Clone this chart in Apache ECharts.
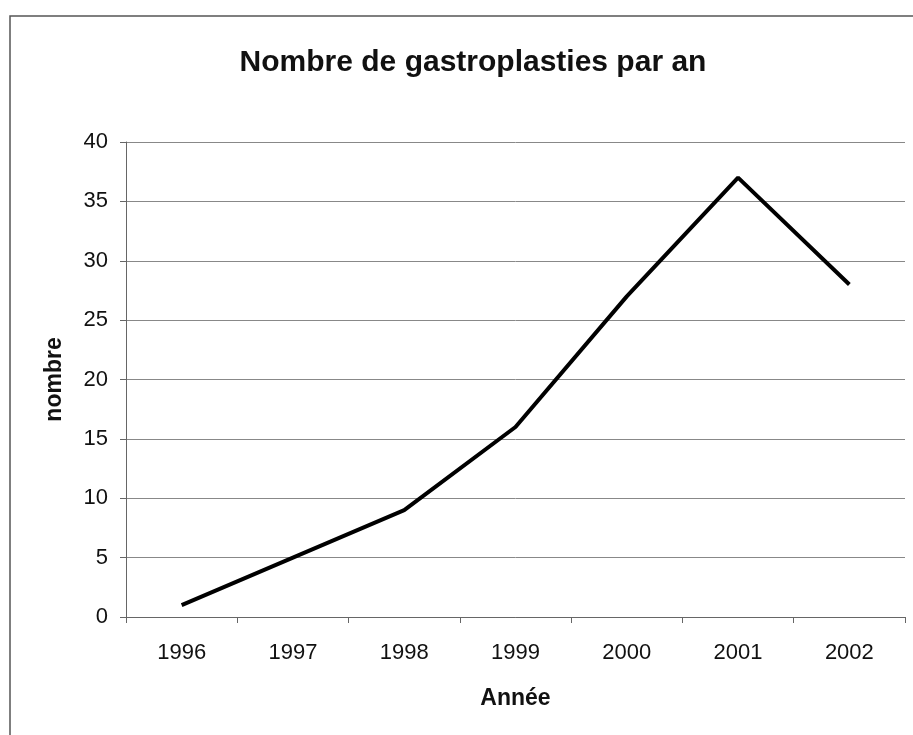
<!DOCTYPE html>
<html>
<head>
<meta charset="utf-8">
<script src="https://cdn.jsdelivr.net/npm/echarts@6/dist/echarts.min.js"></script>
<style>
  html, body { margin: 0; padding: 0; background: #fff; }
  #chart { width: 913px; height: 735px; }
</style>
</head>
<body>
<div id="chart"></div>
<script>
// données
var annees = ['1996', '1997', '1998', '1999', '2000', '2001', '2002'];
var nombres = [1, 5, 9, 16, 27, 37, 28];
var yTicks = [0, 5, 10, 15, 20, 25, 30, 35, 40];

var myChart = echarts.init(document.getElementById('chart'));

myChart.setOption({
    animation: false,
    textStyle: { fontFamily: 'Liberation Sans, Arial, sans-serif', color: '#111' },
    title: {
        text: 'Nombre de gastroplasties par an',
        left: 468,
        textAlign: 'center',
        top: 43,
        textStyle: { fontSize: 30, fontWeight: 'bold', color: '#111' }
    },
    graphic: [
        {
            // cadre du graphique (bords haut et gauche visibles)
            type: 'rect',
            shape: { x: 10, y: 16, width: 960, height: 760 },
            style: { fill: 'none', stroke: '#555', lineWidth: 1.5 }
        }
    ],
    grid: { left: 126, right: 8, top: 142, bottom: 118 },
    xAxis: {
        type: 'category',
        data: annees,
        name: 'Année',
        nameLocation: 'middle',
        nameGap: 70,
        nameTextStyle: { fontSize: 23, fontWeight: 'bold', color: '#111' },
        axisLine: { lineStyle: { color: '#666', width: 1 } },
        axisTick: { show: true, length: 6, lineStyle: { color: '#666' } },
        axisLabel: { fontSize: 22, color: '#111', margin: 25 }
    },
    yAxis: {
        type: 'value',
        min: yTicks[0],
        max: yTicks[yTicks.length - 1],
        interval: 5,
        name: 'nombre',
        nameLocation: 'middle',
        nameGap: 60,
        nameTextStyle: { fontSize: 23, fontWeight: 'bold', color: '#111' },
        axisLine: { show: true, lineStyle: { color: '#666', width: 1 } },
        axisTick: { show: true, length: 6, lineStyle: { color: '#666' } },
        axisLabel: { fontSize: 22, color: '#111', margin: 18 },
        splitLine: { lineStyle: { color: '#888', width: 1 } }
    },
    series: [
        {
            name: 'nombre',
            type: 'line',
            data: nombres,
            showSymbol: false,
            symbol: 'none',
            lineStyle: { color: '#000', width: 4 }
        }
    ]
});
</script>
</body>
</html>
